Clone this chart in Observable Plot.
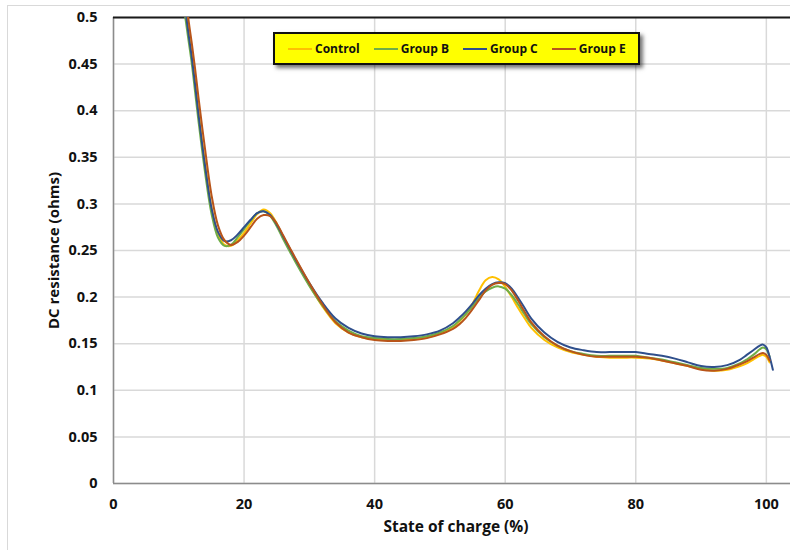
<!DOCTYPE html>
<html>
<head>
<meta charset="utf-8">
<script src="https://cdn.jsdelivr.net/npm/d3@7"></script>
<script src="https://cdn.jsdelivr.net/npm/@observablehq/plot@0.6"></script>
<style>
  html, body { margin: 0; padding: 0; background: #fff; }
  #wrap { position: relative; width: 790px; height: 550px; overflow: hidden; font-family: "Open Sans", sans-serif; }
  #frame { position: absolute; left: 7px; top: 5px; width: 800px; height: 560px; border-left: 1.5px solid #d9d9d9; border-top: 1.5px solid #d9d9d9; }
  #chart { position: absolute; left: 0; top: 0; }
  #legend { position: absolute; left: 273px; top: 32px; width: 350px; height: 29px; background: #ffff00; border: 2px solid #111;
            box-shadow: 3px 3px 4px rgba(0,0,0,0.55); display: flex; align-items: center; padding-left: 13px; box-sizing: content-box; white-space: nowrap; }
  .item { display: flex; align-items: center; flex-shrink: 0; font-weight: bold; font-size: 12px; color: #111; margin-right: 14px; white-space: nowrap; }
  .sw { width: 24px; height: 2px; margin-right: 3px; flex-shrink: 0; }
</style>
</head>
<body>
<div id="wrap">
  <div id="frame"></div>
  <div id="chart"></div>
  <div id="legend"></div>
</div>
<script>
const soc = [10.8, 11.5, 12, 12.5, 13, 14, 15, 16, 17, 18, 19, 20, 21, 22, 23, 24, 25, 26, 27, 28,
  30, 32, 34, 36, 38, 40, 42, 44, 46, 48, 50, 52, 53, 54, 55, 56, 57, 58, 59, 60, 61, 62, 63, 64,
  66, 68, 70, 72, 74, 76, 78, 80, 82, 84, 86, 88, 90, 92, 94, 96, 97, 98, 99, 99.5, 100, 100.5, 101];

const control = [0.525, 0.485, 0.46, 0.432, 0.40, 0.345, 0.297, 0.268, 0.256, 0.255, 0.261, 0.269, 0.279, 0.289, 0.294, 0.290, 0.279, 0.264, 0.251, 0.238,
  0.213, 0.190, 0.172, 0.162, 0.157, 0.155, 0.154, 0.154, 0.155, 0.157, 0.161, 0.168, 0.174, 0.182, 0.193, 0.207, 0.218, 0.2215, 0.219, 0.211, 0.200, 0.188, 0.177, 0.167,
  0.154, 0.146, 0.141, 0.138, 0.136, 0.135, 0.135, 0.135, 0.134, 0.132, 0.129, 0.126, 0.123, 0.121, 0.122, 0.126, 0.129, 0.133, 0.137, 0.138, 0.136, 0.130, null];

const groupB = [0.51, 0.475, 0.45, 0.42, 0.39, 0.335, 0.29, 0.264, 0.255, 0.256, 0.264, 0.273, 0.282, 0.290, 0.292, 0.287, 0.276, 0.262, 0.249, 0.236,
  0.212, 0.191, 0.174, 0.164, 0.158, 0.156, 0.155, 0.155, 0.156, 0.158, 0.162, 0.169, 0.175, 0.182, 0.190, 0.199, 0.206, 0.210, 0.2115, 0.209, 0.202, 0.192, 0.181, 0.171,
  0.157, 0.148, 0.142, 0.139, 0.137, 0.137, 0.137, 0.137, 0.135, 0.133, 0.130, 0.127, 0.124, 0.123, 0.124, 0.129, 0.133, 0.138, 0.144, 0.146, 0.144, 0.136, null];

const groupC = [0.52, 0.482, 0.457, 0.428, 0.397, 0.342, 0.296, 0.270, 0.260, 0.261, 0.267, 0.275, 0.283, 0.290, 0.292, 0.288, 0.278, 0.265, 0.252, 0.239,
  0.215, 0.194, 0.177, 0.167, 0.161, 0.158, 0.157, 0.157, 0.158, 0.160, 0.164, 0.172, 0.178, 0.185, 0.193, 0.202, 0.209, 0.214, 0.216, 0.215, 0.209, 0.199, 0.188, 0.177,
  0.162, 0.152, 0.146, 0.143, 0.141, 0.141, 0.141, 0.141, 0.139, 0.137, 0.134, 0.130, 0.126, 0.125, 0.127, 0.133, 0.138, 0.143, 0.148, 0.149, 0.146, 0.136, 0.122];

const groupE = [0.54, 0.497, 0.472, 0.445, 0.415, 0.36, 0.31, 0.277, 0.261, 0.256, 0.259, 0.266, 0.275, 0.284, 0.288, 0.287, 0.279, 0.266, 0.253, 0.240,
  0.215, 0.192, 0.173, 0.162, 0.157, 0.154, 0.153, 0.153, 0.154, 0.156, 0.160, 0.166, 0.171, 0.178, 0.187, 0.197, 0.207, 0.213, 0.215, 0.214, 0.207, 0.196, 0.184, 0.173,
  0.158, 0.148, 0.142, 0.138, 0.136, 0.136, 0.136, 0.136, 0.135, 0.132, 0.129, 0.126, 0.122, 0.121, 0.123, 0.128, 0.131, 0.135, 0.139, 0.140, 0.138, 0.132, null];

const seriesNames = ["Control", "Group B", "Group C", "Group E"];
const seriesColors = ["#FFC000", "#70AD47", "#2F4F8C", "#B8541A"];
const xTicks = [0, 20, 40, 60, 80, 100];
const yTicks = [0, 0.05, 0.1, 0.15, 0.2, 0.25, 0.3, 0.35, 0.4, 0.45, 0.5];
const xTitle = "State of charge (%)";
const yTitle = "DC resistance (ohms)";

const seriesValues = [control, groupB, groupC, groupE];
const rows = seriesNames.flatMap((name, i) =>
  soc.map((x, j) => ({soc: x, r: seriesValues[i][j], series: name})));

const yMax = yTicks[yTicks.length - 1];

const chart = Plot.plot({
  width: 790,
  height: 550,
  marginLeft: 113,
  marginRight: 0,
  marginTop: 17,
  marginBottom: 67,
  style: {fontFamily: "'Open Sans', sans-serif", fontSize: "14.5px", fontWeight: "bold", color: "#111", background: "transparent"},
  x: {domain: [0, 103.7]},
  y: {domain: [0, yMax]},
  color: {domain: seriesNames, range: seriesColors},
  marks: [
    Plot.gridX(xTicks, {stroke: "#d9d9d9", strokeOpacity: 1, strokeWidth: 1.5}),
    Plot.gridY(yTicks, {stroke: "#d9d9d9", strokeOpacity: 1, strokeWidth: 1.5}),
    Plot.ruleX([0], {stroke: "#8c8c8c", strokeWidth: 1.5}),
    Plot.ruleY([0], {stroke: "#8c8c8c", strokeWidth: 1.5}),
    Plot.ruleY([yMax], {stroke: "#1a1a1a", strokeWidth: 2}),
    Plot.line(rows, {x: "soc", y: "r", z: "series", stroke: "series", strokeWidth: 2, curve: "catmull-rom", clip: true}),
    Plot.axisY(yTicks, {tickSize: 0, tickPadding: 16, label: null, tickFormat: d => String(d)}),
    Plot.axisX(xTicks, {tickSize: 0, tickPadding: 15, label: null}),
    Plot.text([xTitle], {frameAnchor: "bottom", textAnchor: "middle", lineAnchor: "middle", dx: 4, dy: 44, fontSize: 15.5, fontWeight: "bold", fill: "#111"}),
    Plot.text([yTitle], {frameAnchor: "left", textAnchor: "middle", lineAnchor: "middle", rotate: -90, dx: -59, dy: 0, fontSize: 15, fontWeight: "bold", fill: "#111"})
  ]
});
document.getElementById("chart").appendChild(chart);

const legend = document.getElementById("legend");
seriesNames.forEach((name, i) => {
  const item = document.createElement("div");
  item.className = "item";
  const sw = document.createElement("span");
  sw.className = "sw";
  sw.style.background = seriesColors[i];
  const label = document.createElement("span");
  label.textContent = name;
  item.appendChild(sw);
  item.appendChild(label);
  legend.appendChild(item);
});
</script>
</body>
</html>
